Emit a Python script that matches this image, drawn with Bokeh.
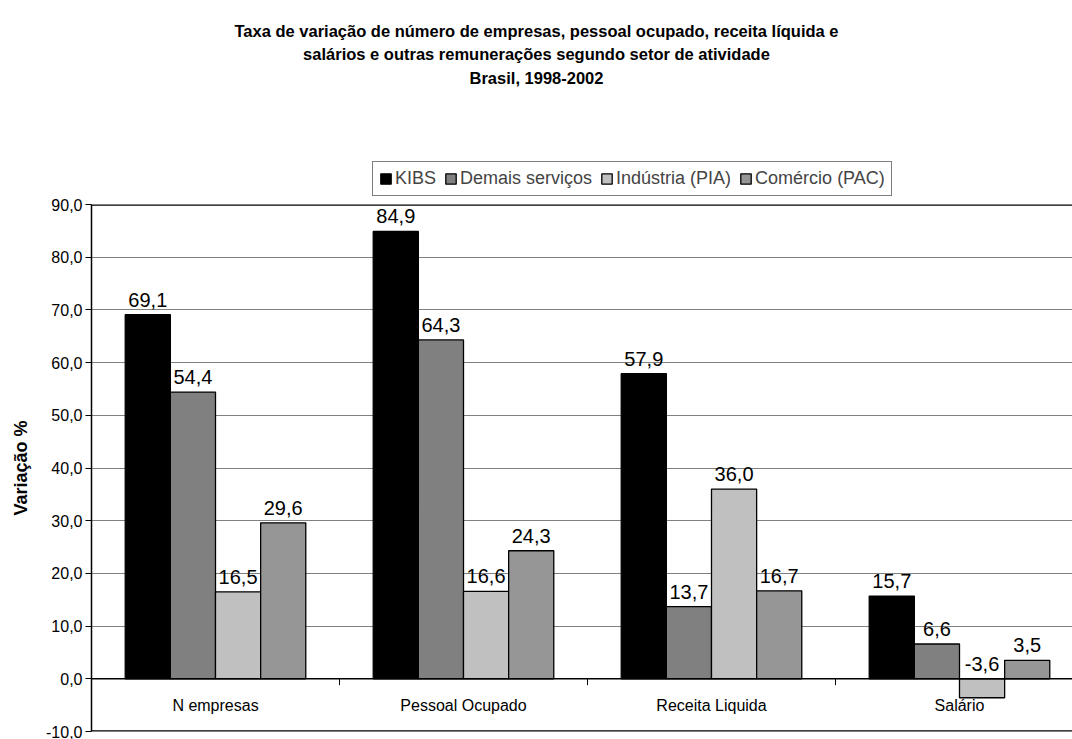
from bokeh.plotting import figure
from bokeh.layouts import column
from bokeh.models import (Range1d, Span, Legend, LegendItem,
                          CustomJSTickFormatter, SingleIntervalTicker, ColumnDataSource)
from bokeh.core.properties import value
from bokeh.embed import file_html
from bokeh.resources import INLINE

# ---- data -------------------------------------------------------------
categories = ["N empresas", "Pessoal Ocupado", "Receita Liquida", "Salário"]
series_names = ["KIBS", "Demais serviços", "Indústria (PIA)", "Comércio (PAC)"]
kibs = [69.1, 84.9, 57.9, 15.7]
demais_servicos = [54.4, 64.3, 13.7, 6.6]
industria_pia = [16.5, 16.6, 36.0, -3.6]
comercio_pac = [29.6, 24.3, 16.7, 3.5]
series_values = [kibs, demais_servicos, industria_pia, comercio_pac]
series_colors = ["#000000", "#808080", "#C0C0C0", "#969696"]

title_lines = [
    "Taxa de variação de número de empresas, pessoal ocupado, receita líquida e",
    "salários e outras remunerações segundo setor de atividade",
    "Brasil, 1998-2002",
]
y_label = "Variação %"

FONT = "Liberation Sans"
W = 1072
HEADER_H = 196          # title + legend strip
MAIN_H = 739 - HEADER_H
LEFT, TOP, BOTTOM = 91, 8, 8
Y0, Y1 = -10, 90
CAT_PX = 248            # pixel width of one category slot

# ---- header: title and legend -------------------------------------------
# the column aligns this frame with the chart frame below, so the header's
# x range starts at LEFT to keep x in canvas pixels
head = figure(width=W, height=HEADER_H, output_backend="svg", toolbar_location=None,
              x_range=Range1d(LEFT, W), y_range=Range1d(HEADER_H, 0),
              x_axis_location=None, y_axis_location=None,
              min_border=0, min_border_left=LEFT, min_border_right=0,
              min_border_top=0, min_border_bottom=0)
head.outline_line_color = None
head.grid.grid_line_color = None
head.border_fill_color = "white"
head.background_fill_color = "white"

head.text(x=[W / 2] * len(title_lines), y=[30, 53, 77], text=title_lines,
          text_align="center", text_baseline="middle", text_font=value(FONT),
          text_font_style="bold", text_font_size="16.5px", text_color="black")

# zero-size swatch renderers for the legend, hidden behind the legend box
swatches = []
for name, color in zip(series_names, series_colors):
    swatches.append(head.vbar(x=[W / 2], bottom=[180], top=[180], width=0,
                              fill_color=color, line_color="black", line_width=1.3))
legend = Legend(items=[LegendItem(label=n, renderers=[r]) for n, r in zip(series_names, swatches)],
                orientation="horizontal", location=(372 - LEFT, 0.5),
                label_text_font=FONT, label_text_font_size="18px",
                label_standoff=3, spacing=8, padding=6, margin=0,
                glyph_width=13, glyph_height=13, label_height=20,
                border_line_color="black", border_line_width=1,
                background_fill_color="white", background_fill_alpha=1)
head.add_layout(legend)

# ---- main chart ----------------------------------------------------------
p = figure(width=W, height=MAIN_H, output_backend="svg", toolbar_location=None,
           x_range=Range1d(0, (W - LEFT) / CAT_PX), y_range=Range1d(Y0, Y1),
           x_axis_location=None, min_border_left=LEFT, min_border_right=0,
           min_border_top=TOP, min_border_bottom=BOTTOM)
p.outline_line_color = None
p.background_fill_color = "white"
p.border_fill_color = "white"

yax = p.yaxis[0]
yax.ticker = SingleIntervalTicker(interval=10, num_minor_ticks=0)
yax.formatter = CustomJSTickFormatter(code="return tick.toFixed(1).replace('.', ',');")
yax.major_label_text_font = FONT
yax.major_label_text_font_size = "16px"
yax.major_label_text_color = "black"
yax.major_label_standoff = 3
yax.major_tick_out = 6
yax.major_tick_in = 0
yax.major_tick_line_color = "black"
yax.axis_line_color = "black"
yax.axis_line_width = 1.5
yax.axis_label = y_label
yax.axis_label_text_font = FONT
yax.axis_label_text_font_style = "bold"
yax.axis_label_text_font_size = "18px"
yax.axis_label_text_color = "black"
yax.axis_label_standoff = 12

p.ygrid.grid_line_color = "#808080"
p.ygrid.grid_line_width = 1
p.xgrid.grid_line_color = None

# grouped bars with value labels
n_series = len(series_values)
bar_w = 0.182
for j, (vals, color) in enumerate(zip(series_values, series_colors)):
    xs = [i + 0.5 + (j - (n_series - 1) / 2) * bar_w for i in range(len(categories))]
    src = ColumnDataSource(dict(
        x=xs, top=vals,
        ly=[max(v, 0) for v in vals],
        lbl=[f"{v:.1f}".replace(".", ",") for v in vals],
    ))
    p.vbar(x="x", top="top", bottom=0, width=bar_w, source=src,
           fill_color=color, line_color="black", line_width=1.3)
    p.text(x="x", y="ly", text="lbl", source=src, text_align="center",
           text_baseline="bottom", y_offset=-8, text_font=value(FONT),
           text_font_size="20px", text_color="black")

# zero line, frame edges, category separators
p.add_layout(Span(location=0, dimension="width", line_color="black", line_width=1.5))
p.add_layout(Span(location=Y1, dimension="width", line_color="black", line_width=2.5))
p.add_layout(Span(location=Y0, dimension="width", line_color="black", line_width=2.5))
seps = list(range(1, len(categories)))
p.segment(x0=seps, y0=[0] * len(seps), x1=seps, y1=[-1.2] * len(seps),
          line_color="black", line_width=1)

# category labels inside the negative band
p.text(x=[i + 0.5 for i in range(len(categories))], y=[-5] * len(categories),
       text=categories, text_align="center", text_baseline="middle",
       text_font=value(FONT), text_font_size="16px", text_color="black")

layout = column(head, p, spacing=0)
open("out.html", "w").write(file_html(layout, INLINE))
